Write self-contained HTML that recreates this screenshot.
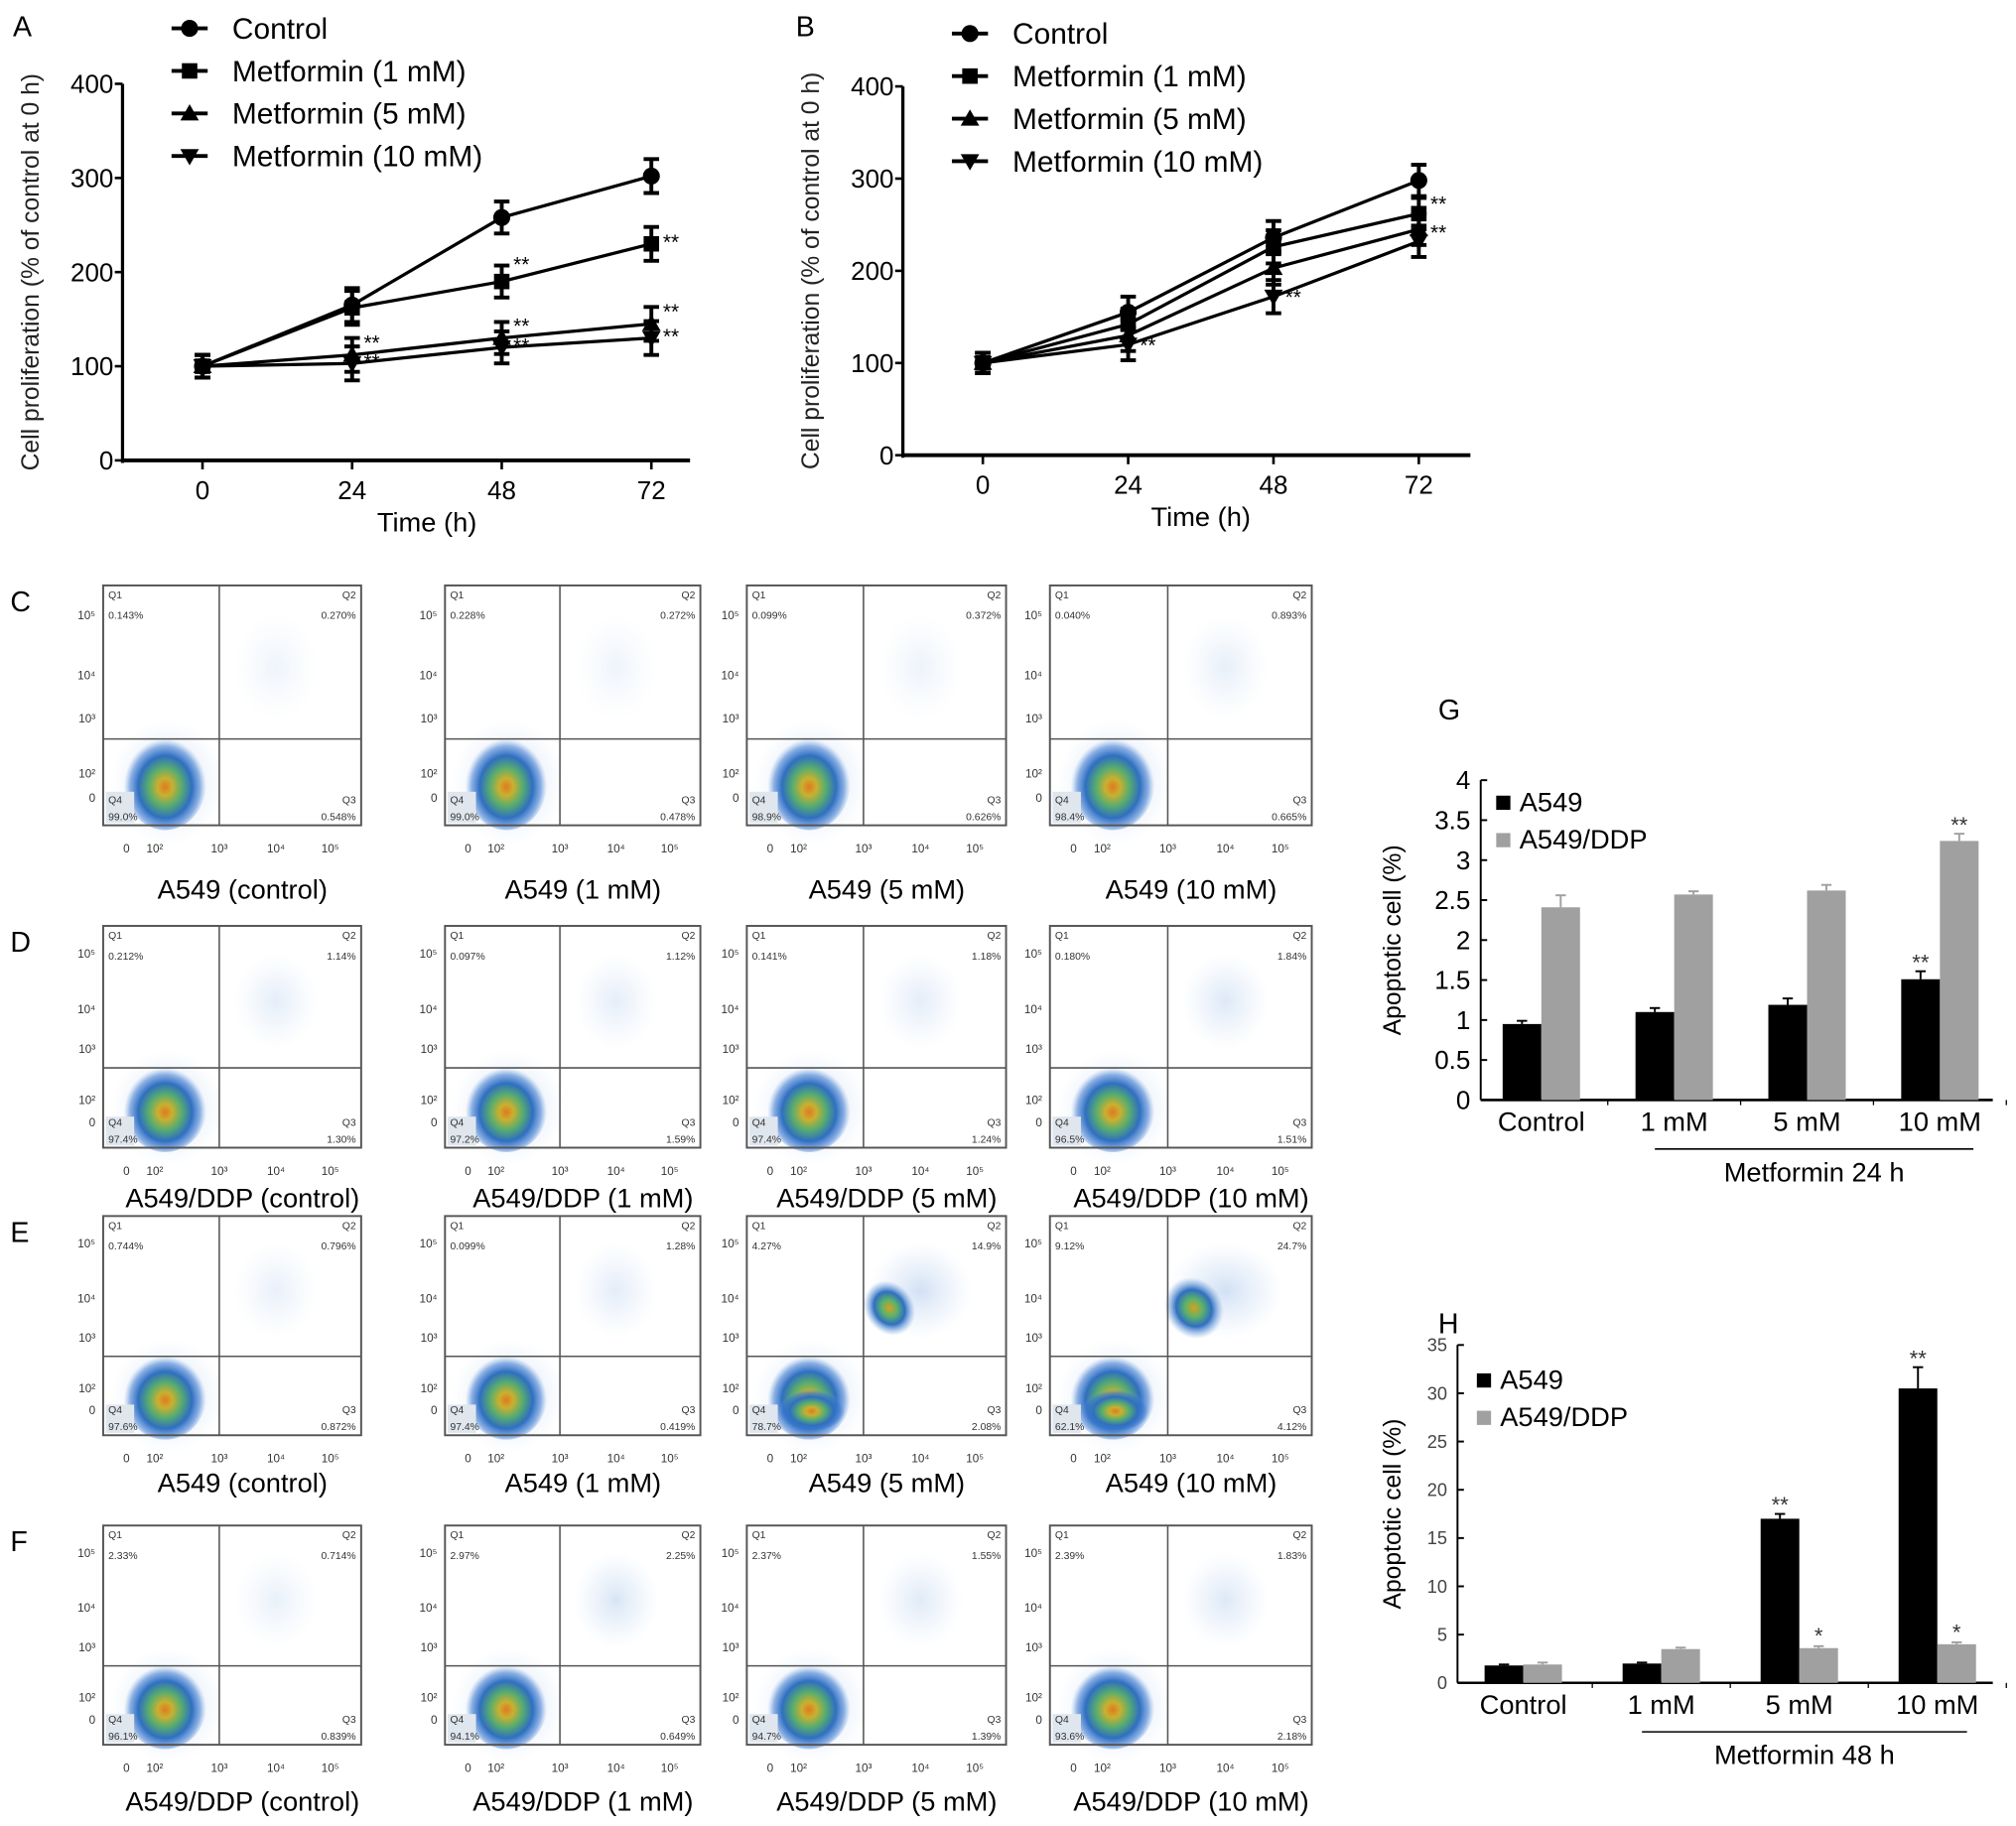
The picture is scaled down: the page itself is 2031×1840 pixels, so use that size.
<!DOCTYPE html>
<html><head><meta charset="utf-8"><style>
html,body{margin:0;padding:0;background:#fff}
svg{display:block}
text{font-family:"Liberation Sans",sans-serif}
</style></head><body>
<svg id="fig" width="2031" height="1840" viewBox="0 0 1563 1416" xmlns="http://www.w3.org/2000/svg">
<defs>
<radialGradient id="blob" cx="50%" cy="55%" r="50%">
<stop offset="0" stop-color="#e07a20"/><stop offset="0.18" stop-color="#c9b030"/><stop offset="0.4" stop-color="#58ad6e"/><stop offset="0.65" stop-color="#2f6fc0"/><stop offset="0.85" stop-color="#3a78d0" stop-opacity="0.55"/><stop offset="1" stop-color="#6fa0e0" stop-opacity="0"/>
</radialGradient>
<radialGradient id="cloud" cx="50%" cy="50%" r="50%">
<stop offset="0" stop-color="#d9a020"/><stop offset="0.3" stop-color="#5bb36a"/><stop offset="0.6" stop-color="#2f6fc0"/><stop offset="1" stop-color="#6fa0e0" stop-opacity="0"/>
</radialGradient>
<radialGradient id="faint" cx="50%" cy="50%" r="50%">
<stop offset="0" stop-color="#7fa8e0" stop-opacity="0.35"/><stop offset="1" stop-color="#9fc0ea" stop-opacity="0"/>
</radialGradient>
</defs>
<g id="root"></g>
</svg>
<script>
// ---- Panel A/B data ----
const timePoints = [0, 24, 48, 72];
const seriesNames = ["Control", "Metformin (1 mM)", "Metformin (5 mM)", "Metformin (10 mM)"];
const aControl = [100, 165, 258, 302];
const a1mM = [100, 162, 190, 230];
const a5mM = [100, 112, 130, 145];
const a10mM = [100, 103, 120, 130];
const aErr = [12, 18, 17, 18];
const bControl = [100, 155, 236, 298];
const b1mM = [100, 142, 226, 262];
const b5mM = [100, 130, 203, 245];
const b10mM = [100, 120, 172, 232];
const bErr = [11, 17, 18, 17];
const yTicksLine = [0, 100, 200, 300, 400];
// ---- Flow data ----
const rowLetters = ["C", "D", "E", "F"];
const flowLabels = [
 ["A549 (control)", "A549 (1 mM)", "A549 (5 mM)", "A549 (10 mM)"],
 ["A549/DDP (control)", "A549/DDP (1 mM)", "A549/DDP (5 mM)", "A549/DDP (10 mM)"],
 ["A549 (control)", "A549 (1 mM)", "A549 (5 mM)", "A549 (10 mM)"],
 ["A549/DDP (control)", "A549/DDP (1 mM)", "A549/DDP (5 mM)", "A549/DDP (10 mM)"]];
const q1 = [["0.143%","0.228%","0.099%","0.040%"],["0.212%","0.097%","0.141%","0.180%"],["0.744%","0.099%","4.27%","9.12%"],["2.33%","2.97%","2.37%","2.39%"]];
const q2 = [["0.270%","0.272%","0.372%","0.893%"],["1.14%","1.12%","1.18%","1.84%"],["0.796%","1.28%","14.9%","24.7%"],["0.714%","2.25%","1.55%","1.83%"]];
const q3 = [["0.548%","0.478%","0.626%","0.665%"],["1.30%","1.59%","1.24%","1.51%"],["0.872%","0.419%","2.08%","4.12%"],["0.839%","0.649%","1.39%","2.18%"]];
const q4 = [["99.0%","99.0%","98.9%","98.4%"],["97.4%","97.2%","97.4%","96.5%"],["97.6%","97.4%","78.7%","62.1%"],["96.1%","94.1%","94.7%","93.6%"]];
const q2Share = [[0.27,0.27,0.37,0.89],[1.14,1.12,1.18,1.84],[0.8,1.28,14.9,24.7],[0.71,2.25,1.55,1.83]];
// ---- Bar data ----
const barCats = ["Control", "1 mM", "5 mM", "10 mM"];
const gA549 = [0.95, 1.1, 1.19, 1.51];
const gDDP = [2.41, 2.57, 2.62, 3.24];
const gA549Err = [0.04, 0.05, 0.08, 0.1];
const gDDPErr = [0.15, 0.04, 0.07, 0.09];
const gA549Sig = ["", "", "", "**"];
const gDDPSig = ["", "", "", "**"];
const gTicks = [0, 0.5, 1, 1.5, 2, 2.5, 3, 3.5, 4];
const hA549 = [1.8, 2.0, 17.0, 30.5];
const hDDP = [1.9, 3.5, 3.6, 4.0];
const hA549Err = [0.1, 0.1, 0.5, 2.2];
const hDDPErr = [0.2, 0.15, 0.2, 0.2];
const hA549Sig = ["", "", "**", "**"];
const hDDPSig = ["", "", "*", "*"];
const hTicks = [0, 5, 10, 15, 20, 25, 30, 35];

const NS = "http://www.w3.org/2000/svg";
const root = document.getElementById("root");
function el(tag, attrs, parent, txt) {
  const e = document.createElementNS(NS, tag);
  for (const k in attrs) e.setAttribute(k, attrs[k]);
  if (txt !== undefined) e.textContent = txt;
  (parent || root).appendChild(e);
  return e;
}
function grp(name) {
  const g = el("g", {});
  
  
  return g;
}
function marker(g, shape, x, y, s) {
  let m;
  if (shape === 0) m = el("circle", {cx:x, cy:y, r:s*0.55, fill:"#000"}, g);
  else if (shape === 1) m = el("rect", {x:x-s*0.5, y:y-s*0.5, width:s, height:s, fill:"#000"}, g);
  else if (shape === 2) m = el("polygon", {points:`${x},${y-s*0.6} ${x-s*0.6},${y+s*0.45} ${x+s*0.6},${y+s*0.45}`, fill:"#000"}, g);
  else m = el("polygon", {points:`${x},${y+s*0.6} ${x-s*0.6},${y-s*0.45} ${x+s*0.6},${y-s*0.45}`, fill:"#000"}, g);
  
  
}

function linePanel(cfg) {
  const g = grp(cfg.name);
  const sx = t => cfg.x0 + (t / 72) * (cfg.x72 - cfg.x0);
  const sy = v => cfg.yBase - (v / 400) * (cfg.yBase - cfg.yTop);
  const t1 = el("text", {x:cfg.letterX, y:cfg.letterY, "font-size":22}, g, cfg.letter);
   
  el("line", {x1:cfg.ax, y1:cfg.yTop, x2:cfg.ax, y2:cfg.yBase+2, stroke:"#000", "stroke-width":2.5}, g);
  el("line", {x1:cfg.ax, y1:cfg.yBase, x2:cfg.axEnd, y2:cfg.yBase, stroke:"#000", "stroke-width":3}, g);
  yTicksLine.forEach(v => {
    el("line", {x1:cfg.ax-6, y1:sy(v), x2:cfg.ax, y2:sy(v), stroke:"#000", "stroke-width":2}, g);
    const t = el("text", {x:cfg.ax-7, y:sy(v)+7, "font-size":20, "text-anchor":"end"}, g, v);
     
  });
  timePoints.forEach(tp => {
    el("line", {x1:sx(tp), y1:cfg.yBase, x2:sx(tp), y2:cfg.yBase+7, stroke:"#000", "stroke-width":2}, g);
    const t = el("text", {x:sx(tp), y:cfg.yBase+30, "font-size":20, "text-anchor":"middle"}, g, tp);
     
  });
  const xt = el("text", {x:(cfg.x0+cfg.x72)/2, y:cfg.yBase+55, "font-size":21, "text-anchor":"middle"}, g, "Time (h)");
   
  const yc = (cfg.yTop + cfg.yBase) / 2;
  const yt = el("text", {x:0, y:0, "font-size":19, "text-anchor":"middle", fill:"#222", transform:`translate(${cfg.ax-65},${yc}) rotate(-90)`}, g, "Cell proliferation (% of control at 0 h)");
   
  cfg.series.forEach((vals, si) => {
    const pts = vals.map((v, i) => `${sx(timePoints[i])},${sy(v)}`).join(" ");
    const pl = el("polyline", {points:pts, fill:"none", stroke:"#000", "stroke-width":2.5}, g);
     
    vals.forEach((v, i) => {
      const x = sx(timePoints[i]), e = cfg.err[i];
      el("line", {x1:x, y1:sy(v+e), x2:x, y2:sy(v-e), stroke:"#000", "stroke-width":3}, g);
      el("line", {x1:x-6, y1:sy(v+e), x2:x+6, y2:sy(v+e), stroke:"#000", "stroke-width":3}, g);
      el("line", {x1:x-6, y1:sy(v-e), x2:x+6, y2:sy(v-e), stroke:"#000", "stroke-width":3}, g);
      marker(g, si, x, sy(v), 12);
      if (cfg.sig[si][i]) {
        const s = el("text", {x:x+9, y:sy(v)+cfg.sigDy[si][i], "font-size":16}, g, "**");
         
      }
    });
  });
  seriesNames.forEach((n, i) => {
    const y = cfg.legY + i * 33;
    const lg = grp('legend-entry'); g.appendChild(lg);
    el("line", {x1:cfg.legX-14, y1:y, x2:cfg.legX+14, y2:y, stroke:"#000", "stroke-width":3}, lg);
    marker(lg, i, cfg.legX, y, 12);
    el("text", {x:cfg.legX+33, y:y+8, "font-size":23}, lg, n);
  });
}
linePanel({name:"panel-a-chart", letter:"A", letterX:10, letterY:28, ax:95, axEnd:535, yTop:65, yBase:357, x0:157, x72:505,
  series:[aControl, a1mM, a5mM, a10mM], err:aErr, legX:147, legY:22,
  sig:[[0,0,0,0],[0,0,1,1],[0,1,1,1],[0,1,1,1]], sigDy:[[0,0,0,0],[0,0,-8,4],[0,-4,-4,-4],[0,4,4,4]]});
linePanel({name:"panel-b-chart", letter:"B", letterX:617, letterY:28, ax:700, axEnd:1140, yTop:67, yBase:353, x0:762, x72:1100,
  series:[bControl, b1mM, b5mM, b10mM], err:bErr, legX:752, legY:26,
  sig:[[0,0,0,0],[0,0,0,1],[0,0,0,1],[0,1,1,0]], sigDy:[[0,0,0,0],[0,0,0,-2],[0,0,0,8],[0,6,6,0]]});

// ---- Flow plots ----
const colX = [80, 345, 579, 814];
const colW = [200, 198, 201, 203];
const rowY = [454, 718, 943, 1183];
const rowH = [186, 172, 170, 170];
const labelY = [697, 936, 1157, 1404];
rowLetters.forEach((L, r) => {
  const lt = el("text", {x:8, y:rowY[r]+20, "font-size":22}, root, L);
   
  colX.forEach((x0, c) => {
    const y0 = rowY[r], W = colW[c], H = rowH[r];
    const g = grp('flow-plot'); root.appendChild(g);
    const vx = x0 + 0.45 * W, hy = y0 + 0.64 * H;
    el("ellipse", {cx:x0+0.25*W, cy:y0+0.82*H, rx:0.22*W, ry:0.26*H, fill:"url(#faint)"}, g);
    el("ellipse", {cx:vx+0.22*W, cy:hy-0.3*H, rx:0.16*W+q2Share[r][c]*0.5, ry:0.22*H, fill:"url(#faint)", opacity:Math.min(1, 0.3+q2Share[r][c]/4)}, g);
    const b = el("ellipse", {cx:x0+0.24*W, cy:y0+0.82*H, rx:0.16*W, ry:0.2*H, fill:"url(#blob)"}, g);
     
    if (q2Share[r][c] > 5) {
      const s = q2Share[r][c] / 25;
      const cx2 = vx+0.1*W, cy2 = hy-0.22*H;
      el("ellipse", {cx:cx2, cy:cy2, rx:0.07*W+s*8, ry:0.11*H+s*6, fill:"url(#cloud)", transform:`rotate(-35 ${cx2} ${cy2})`}, g);
      el("ellipse", {cx:x0+0.25*W, cy:y0+0.88*H, rx:0.13*W, ry:0.1*H, fill:"url(#blob)"}, g);
    }
    el("rect", {x:x0+2, y:y0+0.86*H, width:22, height:0.13*H, fill:"#dfe6ee"}, g);
    el("rect", {x:x0, y:y0, width:W, height:H, fill:"none", stroke:"#555", "stroke-width":1.5}, g);
    el("line", {x1:vx, y1:y0, x2:vx, y2:y0+H, stroke:"#555", "stroke-width":1.2}, g);
    el("line", {x1:x0, y1:hy, x2:x0+W, y2:hy, stroke:"#555", "stroke-width":1.2}, g);
    const fs = 8;
    el("text", {x:x0+4, y:y0+10, "font-size":fs, fill:"#333"}, g, "Q1");
    el("text", {x:x0+4, y:y0+26, "font-size":fs, fill:"#333"}, g, q1[r][c]);
    el("text", {x:x0+W-4, y:y0+10, "font-size":fs, fill:"#333", "text-anchor":"end"}, g, "Q2");
    el("text", {x:x0+W-4, y:y0+26, "font-size":fs, fill:"#333", "text-anchor":"end"}, g, q2[r][c]);
    el("text", {x:x0+4, y:y0+H-17, "font-size":fs, fill:"#333"}, g, "Q4");
    el("text", {x:x0+4, y:y0+H-4, "font-size":fs, fill:"#333"}, g, q4[r][c]);
    el("text", {x:x0+W-4, y:y0+H-17, "font-size":fs, fill:"#333", "text-anchor":"end"}, g, "Q3");
    el("text", {x:x0+W-4, y:y0+H-4, "font-size":fs, fill:"#333", "text-anchor":"end"}, g, q3[r][c]);
    const yl = [["10⁵",0.12],["10⁴",0.37],["10³",0.55],["10²",0.78],["0",0.88]];
    yl.forEach(([t, f]) => el("text", {x:x0-6, y:y0+f*H+4, "font-size":9, fill:"#333", "text-anchor":"end"}, g, t));
    const xl = [["0",0.09],["10²",0.2],["10³",0.45],["10⁴",0.67],["10⁵",0.88]];
    xl.forEach(([t, f]) => el("text", {x:x0+f*W, y:y0+H+21, "font-size":9, fill:"#333", "text-anchor":"middle"}, g, t));
    const lab = el("text", {x:x0+W/2+8, y:labelY[r], "font-size":21, "text-anchor":"middle"}, g, flowLabels[r][c]);
     
  });
});

// ---- Bar panels ----
function barPanel(cfg) {
  const g = grp(cfg.name);
  const sy = v => cfg.yBase - (v / cfg.max) * (cfg.yBase - cfg.yTop);
  const lt = el("text", {x:cfg.letterX, y:cfg.letterY, "font-size":22}, g, cfg.letter);
   
  el("line", {x1:cfg.ax, y1:cfg.yTop, x2:cfg.ax, y2:cfg.yBase, stroke:"#000", "stroke-width":1.5}, g);
  el("line", {x1:cfg.ax, y1:cfg.yBase, x2:cfg.axEnd, y2:cfg.yBase, stroke:"#000", "stroke-width":2}, g);
  cfg.ticks.forEach(v => {
    el("line", {x1:cfg.ax, y1:sy(v), x2:cfg.ax+5, y2:sy(v), stroke:"#000", "stroke-width":1.5}, g);
    const t = el("text", {x:cfg.ax-8, y:sy(v)+cfg.tfs*0.35, "font-size":cfg.tfs, "text-anchor":"end", fill:cfg.tcol}, g, v);
     
  });
  const yt = el("text", {x:0, y:0, "font-size":19, "text-anchor":"middle", transform:`translate(${cfg.ytX},${(cfg.yTop+cfg.yBase)/2}) rotate(-90)`}, g, "Apoptotic cell (%)");
   
  const bw = 30;
  barCats.forEach((cat, i) => {
    const cx = cfg.c0 + i * cfg.step;
    [[cfg.a, cfg.aErr, cfg.aSig, "#000", cx - bw], [cfg.d, cfg.dErr, cfg.dSig, "#a0a0a0", cx]].forEach(([vals, errs, sigs, col, bx]) => {
      const v = vals[i];
      const r = el("rect", {x:bx, y:sy(v), width:bw, height:cfg.yBase - sy(v), fill:col}, g);
      
      
      const ex = bx + bw / 2, ey = sy(v + errs[i]);
      el("line", {x1:ex, y1:sy(v), x2:ex, y2:ey, stroke:col, "stroke-width":1.5}, g);
      el("line", {x1:ex-4, y1:ey, x2:ex+4, y2:ey, stroke:col, "stroke-width":1.5}, g);
      if (sigs[i]) {
        const s = el("text", {x:ex, y:ey-(sigs[i]==="*"?2:1), "font-size":17, "text-anchor":"middle", fill:"#333"}, g, sigs[i]);
         
      }
    });
    el("line", {x1:cx+cfg.step/2, y1:cfg.yBase, x2:cx+cfg.step/2, y2:cfg.yBase+4, stroke:"#000"}, g);
    const t = el("text", {x:cx, y:cfg.yBase+24, "font-size":21, "text-anchor":"middle"}, g, cat);
     
  });
  el("line", {x1:cfg.bl1, y1:cfg.yBase+38, x2:cfg.bl2, y2:cfg.yBase+38, stroke:"#000", "stroke-width":1.2}, g);
  const mt = el("text", {x:(cfg.bl1+cfg.bl2)/2, y:cfg.yBase+63, "font-size":21, "text-anchor":"middle"}, g, cfg.groupLabel);
   
  [["A549", "#000"], ["A549/DDP", "#a0a0a0"]].forEach(([n, col], i) => {
    const lg = grp('legend-entry'); g.appendChild(lg);
    const y = cfg.legY + i * 29;
    el("rect", {x:cfg.legX, y:y-11, width:11, height:11, fill:col}, lg);
    el("text", {x:cfg.legX+18, y:y+1, "font-size":21}, lg, n);
  });
}
barPanel({name:"panel-g-chart", letter:"G", letterX:1115, letterY:558, ax:1148, axEnd:1545, yTop:605, yBase:853, max:4, ticks:gTicks, tfs:20, tcol:"#000", ytX:1086,
  c0:1195, step:103, a:gA549, d:gDDP, aErr:gA549Err, dErr:gDDPErr, aSig:gA549Sig, dSig:gDDPSig,
  bl1:1283, bl2:1530, groupLabel:"Metformin 24 h", legX:1160, legY:628});
barPanel({name:"panel-h-chart", letter:"H", letterX:1115, letterY:1034, ax:1130, axEnd:1545, yTop:1043, yBase:1305, max:35, ticks:hTicks, tfs:14, tcol:"#444", ytX:1086,
  c0:1181, step:107, a:hA549, d:hDDP, aErr:hA549Err, dErr:hDDPErr, aSig:hA549Sig, dSig:hDDPSig,
  bl1:1273, bl2:1525, groupLabel:"Metformin 48 h", legX:1145, legY:1076});
</script>
</body></html>
